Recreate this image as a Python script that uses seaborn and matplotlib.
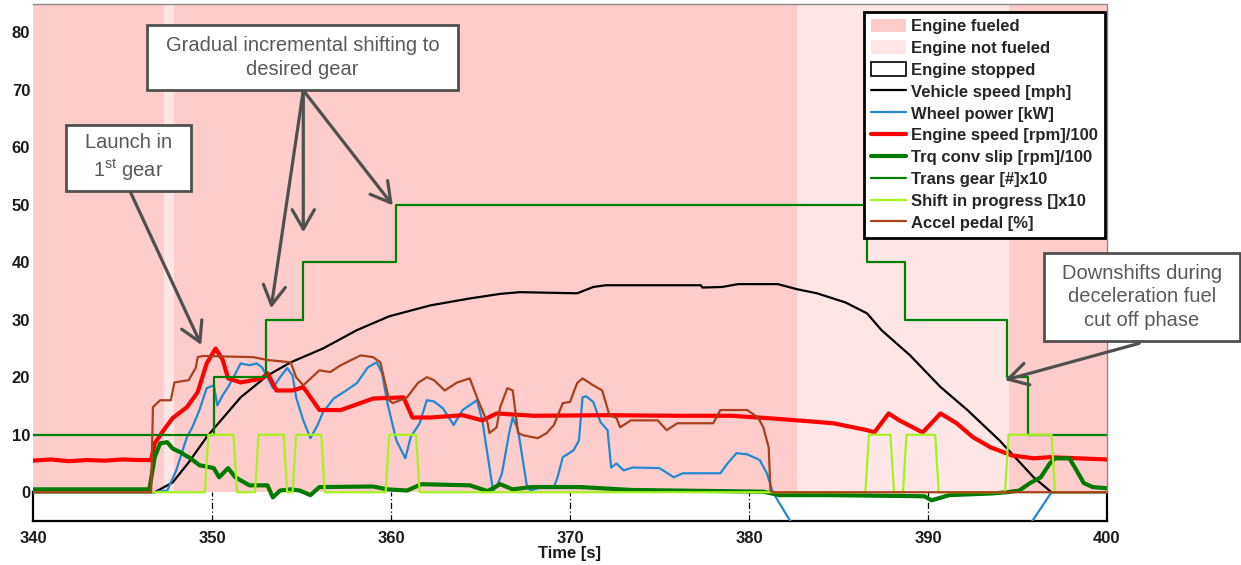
import matplotlib
matplotlib.use("Agg")
import matplotlib.pyplot as plt
import seaborn as sns
import numpy as np
import pandas as pd
from matplotlib.patches import Rectangle, Patch
from matplotlib.lines import Line2D
from matplotlib.font_manager import FontProperties

# ---------------- data ----------------
fuel_start = [340.0, 347.3, 347.9, 382.7, 394.5]
fuel_end = [347.3, 347.9, 382.7, 394.5, 400.0]
fuel_state = ["fueled", "not", "fueled", "not", "fueled"]

speed_t = [340, 346.8, 347.8, 348.7, 349.7, 351.6, 353.1, 354.4, 356.2, 358.1, 359.9, 362.2, 364.4,
           366.1, 367.2, 370.4, 371.3, 372.0, 377.3, 377.4, 378.5, 379.4, 381.6, 382.7, 383.8,
           385.4, 386.6, 387.4, 389.0, 390.7, 392.2, 394.0, 395.9, 396.9, 400]
speed_v = [0, 0, 1.7, 5.2, 9.6, 16.5, 20.3, 22.6, 25.0, 28.2, 30.6, 32.5, 33.7,
           34.5, 34.8, 34.6, 35.7, 36.0, 36.0, 35.6, 35.7, 36.2, 36.2, 35.3, 34.6,
           33.0, 31.1, 28.2, 23.8, 18.3, 14.3, 9.0, 2.6, 0, 0]

wp_t = [340, 346.7, 347.5, 348.0, 348.6, 348.9, 349.3, 349.7, 350.1, 350.3, 350.6, 350.9, 351.2,
        351.6, 352.1, 352.5, 352.8, 353.1, 353.4, 353.8, 354.2, 354.5, 354.7, 355.1, 355.5, 355.9,
        356.2, 356.8, 357.5, 358.1, 358.7, 359.2, 359.5, 359.8, 360.3, 360.8, 361.1, 361.6, 362.0,
        362.4, 362.9, 363.5, 364.0, 364.8, 365.1, 365.7, 365.9, 366.2, 366.6, 366.8, 367.1, 367.6,
        367.8, 368.5, 369.1, 369.3, 369.6, 370.2, 370.5, 370.7, 370.9, 371.3, 371.7, 372.1, 372.3,
        372.6, 373.0, 373.5, 375.0, 375.8, 376.3, 378.4, 378.8, 379.3, 379.9, 380.6, 381.0, 381.3,
        381.6, 382.7, 395.4, 396.9, 400]
wp_v = [0, 0, 0.3, 3.8, 9.6, 11.3, 14.3, 18.1, 18.6, 15.1, 16.9, 18.3, 20.0,
        22.4, 22.1, 22.4, 21.7, 20.0, 18.1, 20.0, 21.6, 20.3, 16.5, 12.5, 9.4, 11.7,
        13.9, 16.3, 17.7, 19.0, 21.7, 22.6, 20.7, 15.5, 9.0, 5.9, 9.6, 12.0, 16.0,
        15.8, 14.6, 11.7, 14.3, 16.0, 12.5, 0.3, 0.9, 3.3, 10.3, 13.0, 10.8, 0.9,
        0.3, 1.0, 0.9, 2.6, 6.1, 7.3, 9.0, 16.5, 16.7, 15.7, 12.2, 10.8, 4.3,
        5.0, 3.8, 4.3, 4.2, 2.6, 3.3, 3.3, 5.0, 6.8, 6.6, 5.6, 3.3, 0.3,
        -1.4, -7.0, -7.0, 0, 0]

eng_t = [340, 341, 342, 343, 344, 345, 346, 346.6, 346.8, 347.3, 347.8, 348.6, 349.2, 349.7,
         350.2, 350.6, 350.9, 351.6, 352.8, 353.1, 353.6, 354.5, 355.1, 356.0, 357.2, 359.0,
         360.7, 361.2, 362.2, 364.0, 365.1, 365.9, 368.0, 372.0, 376.0, 379.0, 381.0, 382.7,
         384.7, 386.6, 387.0, 387.8, 388.4, 389.7, 390.7, 391.6, 392.5, 393.5, 394.7, 395.9,
         396.8, 400]
eng_v = [5.5, 5.7, 5.4, 5.6, 5.5, 5.7, 5.6, 5.6, 8.5, 10.8, 12.9, 14.8, 17.4, 22.4,
         25.0, 23.0, 19.8, 19.1, 19.8, 20.7, 17.7, 17.7, 18.3, 14.3, 14.3, 16.3,
         16.5, 13.0, 13.0, 13.4, 12.5, 13.7, 13.3, 13.4, 13.3, 13.3, 12.9, 12.5,
         12.0, 10.8, 10.4, 13.7, 12.5, 10.4, 13.7, 12.0, 9.6, 7.8, 6.4, 5.9,
         6.1, 5.7]

slip_t = [340, 346.5, 346.8, 347.1, 347.5, 347.8, 348.2, 348.8, 349.3, 350.1, 350.4, 350.9, 351.3,
          352.1, 353.1, 353.4, 353.8, 354.4, 354.9, 355.5, 356.0, 359.0, 359.8, 360.9, 361.7,
          364.4, 365.4, 366.1, 366.8, 367.8, 370.6, 373.4, 380.8, 381.7, 384.5, 389.8, 390.2,
          391.2, 393.6, 394.4, 395.1, 395.7, 396.3, 396.8, 397.1, 397.9, 398.3, 398.7, 399.2, 400]
slip_v = [0.5, 0.5, 6.1, 8.5, 8.7, 7.6, 7.0, 5.9, 4.7, 4.2, 2.6, 4.2, 2.6,
          1.2, 1.2, -0.9, 0.3, 0.5, 0.3, -0.5, 0.9, 1.0, 0.5, 0.3, 1.4,
          1.2, 0.2, 1.4, 0.5, 0.9, 0.9, 0.4, 0.1, -0.5, -0.5, -0.7, -1.4,
          -0.5, -0.2, 0.0, 0.3, 1.6, 2.6, 5.0, 5.9, 5.9, 3.8, 1.6, 0.9, 0.7]

gear_t = [340, 350.1, 353.0, 355.1, 360.3, 386.6, 388.7, 394.4, 395.6, 400]
gear_v = [10, 20, 30, 40, 50, 40, 30, 20, 10, 10]

shift_t = [340, 349.6, 349.8, 351.2, 351.4, 352.4, 352.6, 354.0, 354.2, 354.5, 354.7, 356.1, 356.3,
           359.7, 359.9, 361.4, 361.6, 386.5, 386.7, 387.9, 388.1, 388.6, 388.8, 390.4, 390.6,
           394.3, 394.5, 396.9, 397.1, 400]
shift_v = [0, 0, 10, 10, 0, 0, 10, 10, 0, 0, 10, 10, 0,
           0, 10, 10, 0, 0, 10, 10, 0, 0, 10, 10, 0,
           0, 10, 10, 0, 0]

acc_t = [340, 346.6, 346.7, 346.8, 347.1, 347.7, 347.9, 348.7, 349.1, 349.2, 349.5, 352.3, 353.1,
         354.4, 354.7, 355.1, 356.0, 356.6, 357.2, 358.3, 359.0, 359.4, 359.9, 360.1, 360.9, 361.5,
         362.0, 362.4, 363.0, 363.7, 364.4, 364.8, 365.4, 365.5, 365.9, 366.1, 366.5, 366.8, 367.1,
         367.4, 368.2, 368.7, 369.1, 369.6, 370.0, 370.4, 370.7, 371.3, 371.8, 372.2, 372.6, 372.8,
         373.4, 374.9, 375.4, 376.0, 378.0, 378.4, 379.9, 380.5, 380.8, 381.1, 381.2, 381.3, 400]
acc_v = [0, 0, 14.8, 15.1, 16.0, 16.0, 19.1, 19.5, 21.7, 23.5, 23.7, 23.5, 23.0,
         22.6, 20.0, 18.6, 21.2, 20.9, 22.1, 23.8, 23.5, 22.6, 16.0, 15.5, 16.5, 19.0,
         20.0, 19.5, 17.7, 19.1, 19.8, 16.5, 12.0, 10.3, 11.3, 14.8, 18.1, 17.7, 10.3,
         9.9, 9.4, 10.3, 11.7, 15.5, 15.7, 19.0, 19.8, 18.6, 17.7, 13.4, 12.9, 11.3,
         12.5, 12.5, 10.8, 12.0, 12.0, 14.3, 14.3, 13.0, 11.3, 7.8, 0.3, 0, 0]

x_ticks = [340, 350, 360, 370, 380, 390, 400]
y_ticks = [0, 10, 20, 30, 40, 50, 60, 70, 80]

legend_labels = ["Engine fueled", "Engine not fueled", "Engine stopped", "Vehicle speed [mph]",
                 "Wheel power [kW]", "Engine speed [rpm]/100", "Trq conv slip [rpm]/100",
                 "Trans gear [#]x10", "Shift in progress []x10", "Accel pedal [%]"]

# ---------------- style ----------------
sns.set_style("white")
plt.rcParams["font.family"] = ["Liberation Sans", "DejaVu Sans"]
plt.rcParams["mathtext.fontset"] = "custom"
plt.rcParams["mathtext.rm"] = "Liberation Sans"

C_FUEL = "#ffcccc"
C_NOFUEL = "#ffe6e6"
C_SPEED = "#000000"
C_WP = "#1f8ad2"
C_ENG = "#ff0000"
C_SLIP = "#007a00"
C_GEAR = "#008000"
C_SHIFT = "#a6f21f"
C_ACC = "#a8401a"

W, H = 1241, 565
fig = plt.figure(figsize=(W / 100, H / 100), dpi=100)
ax = fig.add_axes([33 / W, 1 - 521 / H, 1074 / W, 517.5 / H])
ax.set_xlim(340, 400)
ax.set_ylim(-5, 85)

# shading
for s, e, st in zip(fuel_start, fuel_end, fuel_state):
    ax.add_patch(Rectangle((s, 0), e - s, 90, facecolor=C_FUEL if st == "fueled" else C_NOFUEL,
                           edgecolor="none", zorder=1))

# tick guide lines in the white strip
ax.vlines(x_ticks[1:-1], -5, 0, colors="k", linestyles=(0, (5, 2, 1, 2)), linewidth=0.9, zorder=1.5)


def draw(t, v, color, lw, z, **kw):
    sns.lineplot(x=t, y=v, ax=ax, color=color, linewidth=lw, zorder=z,
                 estimator=None, sort=False, legend=False, **kw)


draw(speed_t, speed_v, C_SPEED, 1.6, 3)
draw(wp_t, wp_v, C_WP, 1.6, 3.1)
draw(eng_t, eng_v, C_ENG, 3.0, 3.2)
draw(slip_t, slip_v, C_SLIP, 3.0, 3.3)
draw(gear_t, gear_v, C_GEAR, 1.6, 3.4, drawstyle="steps-post")
draw(shift_t, shift_v, C_SHIFT, 1.6, 3.5)
draw(acc_t, acc_v, C_ACC, 1.6, 3.6)

ax.set_xlim(340, 400)
ax.set_ylim(-5, 85)
ax.set_xticks(x_ticks)
ax.set_yticks(y_ticks)
tick_font = dict(fontsize=12, fontweight="bold", color="#1a1a1a")
ax.set_xticklabels([str(v) for v in x_ticks], **tick_font)
ax.set_yticklabels([str(v) for v in y_ticks], **tick_font)
ax.tick_params(axis="x", length=0, pad=7)
ax.tick_params(axis="y", length=0, pad=2)
ax.set_xlabel("Time [s]", fontsize=12, fontweight="bold", color="#1a1a1a", labelpad=0)
ax.set_ylabel("")

for side in ["left", "right", "bottom"]:
    ax.spines[side].set_color("black")
    ax.spines[side].set_linewidth(1.6)
ax.spines["left"].set_bounds(-5, 0)
ax.spines["right"].set_bounds(-5, 0)
ax.spines["top"].set_color("#8a8a8a")
ax.spines["top"].set_linewidth(1.0)
ax.plot([1, 1], [5 / 90, 1], transform=ax.transAxes, color="#8a8a8a", lw=1.0, clip_on=False, zorder=6)

# legend
handles = [
    Patch(facecolor=C_FUEL, edgecolor="none"),
    Patch(facecolor=C_NOFUEL, edgecolor="none"),
    Patch(facecolor="white", edgecolor="black", linewidth=1.2),
    Line2D([], [], color=C_SPEED, lw=1.6),
    Line2D([], [], color=C_WP, lw=1.6),
    Line2D([], [], color=C_ENG, lw=3.0),
    Line2D([], [], color=C_SLIP, lw=3.0),
    Line2D([], [], color=C_GEAR, lw=1.6),
    Line2D([], [], color=C_SHIFT, lw=1.6),
    Line2D([], [], color=C_ACC, lw=1.6),
]
leg = ax.legend(handles, legend_labels, loc="upper right", bbox_to_anchor=(1105 / W, 1 - 12 / H),
                bbox_transform=fig.transFigure, borderaxespad=0, frameon=True, fancybox=False,
                edgecolor="black", framealpha=1,
                prop=FontProperties(family="Liberation Sans", weight="bold", size=12),
                labelspacing=0.37, handlelength=2.15, handletextpad=0.3, borderpad=0.4,
                handleheight=0.9)
leg.get_frame().set_linewidth(2.0)
leg.set_zorder(8)

# annotation boxes
BOX_EC = "#505050"
TXT_C = "#595959"


def fig_box(x0, y0, x1, y1, text, fs=14.5, ls=1.3):
    r = Rectangle((x0 / W, 1 - y1 / H), (x1 - x0) / W, (y1 - y0) / H, transform=fig.transFigure,
                  facecolor="white", edgecolor=BOX_EC, linewidth=2.0, zorder=10)
    fig.add_artist(r)
    fig.text((x0 + x1) / 2 / W, 1 - (y0 + y1) / 2 / H, text, ha="center", va="center",
             fontsize=fs, color=TXT_C, linespacing=ls, zorder=11)


arrow_kw = dict(arrowstyle="->,head_length=0.7,head_width=0.4", color=BOX_EC, lw=2.3,
                mutation_scale=20, shrinkA=0, shrinkB=0)


def arrow(tip, origin):
    ax.annotate("", xy=tip, xytext=origin, arrowprops=arrow_kw, annotation_clip=False, zorder=9)


arrow((349.4, 25.6), (345.4, 52.5))
arrow((353.3, 32.0), (355.1, 69.9))
arrow((355.1, 45.2), (355.1, 69.9))
arrow((360.1, 49.9), (355.1, 69.9))
arrow((394.3, 19.5), (401.8, 25.9))

fig_box(66, 125, 191, 191, "Launch in\n1$^{\\mathrm{st}}$ gear")
fig_box(147, 25, 458, 90, "Gradual incremental shifting to\ndesired gear")
fig_box(1044, 253, 1240, 341, "Downshifts during\ndeceleration fuel\ncut off phase")

fig.savefig("out.png", dpi=100, facecolor="white")
